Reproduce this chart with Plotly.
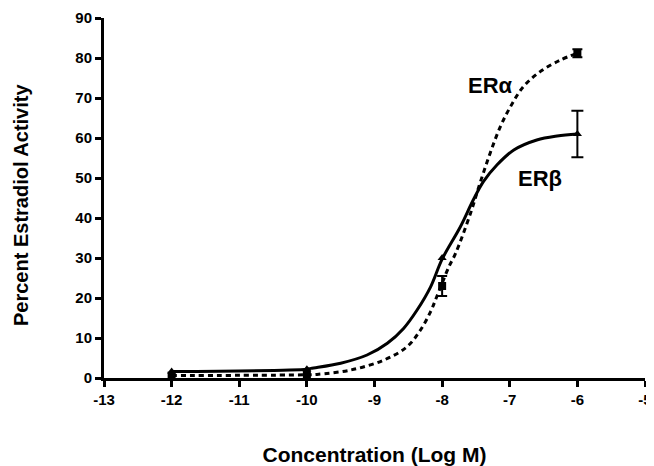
import plotly.graph_objects as go

# Data points (log M, percent estradiol activity); 0 error = no visible bar
conc = [-12, -10, -8, -6]
era_vals = [0.6, 0.8, 23.0, 81.2]
era_err = [0, 0, 2.5, 1.0]
erb_vals = [1.6, 2.2, 30.0, 61.0]
erb_err = [0, 0, 0, 5.8]

# Fitted curves
era_curve_x = [-12, -10, -9.85, -9.35, -8.86, -8.52, -8.32, -8.17, -8.08, -7.90, -7.80,
               -7.58, -7.44, -7.29, -7.14, -6.99, -6.80, -6.55, -6.25, -6.0]
era_curve_y = [0.6, 0.8, 0.9, 2.0, 4.5, 7.8, 12.0, 16.6, 20.3, 27.8, 31.2,
               41.2, 48.7, 56.2, 62.8, 67.8, 72.8, 76.6, 79.5, 81.2]
erb_curve_x = [-12, -10, -9.94, -9.50, -9.11, -8.81, -8.57, -8.37, -8.17, -8.0,
               -7.73, -7.54, -7.39, -7.19, -6.94, -6.60, -6.30, -6.0]
erb_curve_y = [1.6, 2.2, 2.4, 3.7, 5.75, 8.7, 12.4, 17.0, 22.8, 29.7,
               37.8, 44.5, 49.1, 53.25, 57.0, 59.5, 60.5, 61.0]

x_ticks = [-13, -12, -11, -10, -9, -8, -7, -6, -5]
y_ticks = [0, 10, 20, 30, 40, 50, 60, 70, 80, 90]

fig = go.Figure()
fig.add_trace(go.Scatter(x=era_curve_x, y=era_curve_y, mode="lines", line_shape="spline",
                         line=dict(color="black", width=3, dash="5px,4px"), cliponaxis=False, hoverinfo="skip"))
fig.add_trace(go.Scatter(x=erb_curve_x, y=erb_curve_y, mode="lines", line_shape="spline",
                         line=dict(color="black", width=3), cliponaxis=False, hoverinfo="skip"))


def add_errors(xs, ys, errs, w):
    idx = [i for i, e in enumerate(errs) if e > 0]
    fig.add_trace(go.Scatter(x=[xs[i] for i in idx], y=[ys[i] for i in idx], mode="markers",
                             marker=dict(size=1, color="rgba(0,0,0,0)"),
                             error_y=dict(type="data", array=[errs[i] for i in idx],
                                          color="black", thickness=2, width=w),
                             cliponaxis=False, hoverinfo="skip"))


add_errors(conc, era_vals, era_err, 5)
add_errors(conc, erb_vals, erb_err, 6)

fig.add_trace(go.Scatter(x=conc, y=era_vals, mode="markers",
                         marker=dict(symbol="square", size=8, color="black"), cliponaxis=False))
fig.add_trace(go.Scatter(x=conc, y=erb_vals, mode="markers",
                         marker=dict(symbol="triangle-up", size=8, color="black"), cliponaxis=False))

fam = "Liberation Sans, Arial, sans-serif"
fig.add_annotation(x=-7.28, y=73.2, text="<b>ERα</b>", showarrow=False,
                   font=dict(family=fam, size=22, color="black"))
fig.add_annotation(x=-6.55, y=49.8, text="<b>ERβ</b>", showarrow=False,
                   font=dict(family=fam, size=22, color="black"))
fig.add_annotation(xref="paper", yref="paper", x=0, y=0.5, xshift=-83, yshift=-7,
                   text="<b>Percent Estradiol Activity</b>", textangle=-90, showarrow=False,
                   xanchor="center", yanchor="middle",
                   font=dict(family=fam, size=20, color="black"))

# page body has an 8px margin, so the figure is sized/offset to compensate
fig.update_layout(
    width=646, height=458,
    margin=dict(l=96, r=9, t=10, b=88),
    paper_bgcolor="white", plot_bgcolor="white",
    showlegend=False,
    xaxis=dict(range=[-13, -5], tickvals=x_ticks, ticktext=["<b>%d</b>" % v for v in x_ticks],
               automargin=False, ticklabeloverflow="allow",
               showgrid=False, zeroline=False, showline=True, linecolor="black", linewidth=3,
               ticks="outside", ticklen=6, tickwidth=3, tickcolor="black",
               tickfont=dict(family=fam, size=15, color="black"),
               title=dict(text="<b>Concentration (Log M)</b>", font=dict(family=fam, size=21, color="black"), standoff=41)),
    yaxis=dict(range=[0, 90], tickvals=y_ticks, ticktext=["<b>%d</b>" % v for v in y_ticks],
               automargin=False, ticklabeloverflow="allow",
               showgrid=False, zeroline=False, showline=True, linecolor="black", linewidth=3,
               ticks="outside", ticklen=6, tickwidth=3, tickcolor="black",
               tickfont=dict(family=fam, size=15, color="black")),
)
fig.write_html("out.html")
